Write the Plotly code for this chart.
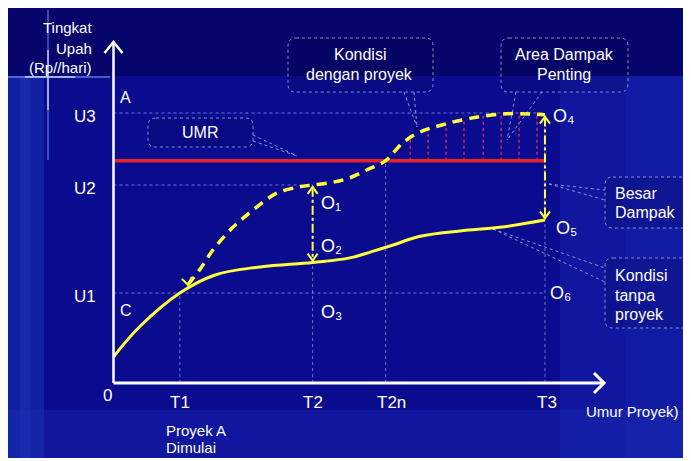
import plotly.graph_objects as go

# ---------------- data ----------------
time_labels = ["T1", "T2", "T2n", "T3"]
time_vals = [1.0, 3.0, 4.1, 6.5]
wage_labels = ["U1", "U2", "U3"]
wage_vals = [1.0, 2.2, 3.0]
umr_level = 2.47

# Kondisi tanpa proyek (solid)
t_without = [0.0, 0.4, 1.0, 1.53, 2.21, 3.0, 3.56, 3.89, 4.2, 4.62, 5.22, 5.82, 6.5]
w_without = [0.29, 0.63, 1.0, 1.2, 1.29, 1.34, 1.39, 1.46, 1.53, 1.63, 1.69, 1.73, 1.81]

# Kondisi dengan proyek (dashed)
t_with = [1.12, 1.3, 1.5, 1.8, 2.1, 2.46, 2.81, 3.0, 3.3, 3.56, 3.82, 4.1, 4.36, 4.62, 4.96, 5.37, 5.87, 6.27, 6.5]
w_with = [1.09, 1.26, 1.48, 1.73, 1.92, 2.11, 2.18, 2.2, 2.23, 2.28, 2.37, 2.47, 2.67, 2.79, 2.87, 2.94, 2.99, 2.99, 2.98]

# Area dampak penting (vertical hatch lines)
impact_t = [4.47, 4.74, 5.01, 5.28, 5.57, 5.84, 6.11, 6.38]
impact_top = [2.72, 2.82, 2.88, 2.92, 2.97, 2.99, 2.99, 2.99]

# point labels
point_labels = ["O₁", "O₂", "O₃", "O₄", "O₅", "O₆"]

# ---------------- geometry / style ----------------
OFF = 8                 # page body margin
W, H = 691, 450         # figure size
X0, XS = 113.5 - OFF, 66.38   # figure pixel of x=0, pixels per unit
Y0, YS = 383.0 - OFF, 90.0

def dx(fx):
    return (fx - X0) / XS

def dy(fy):
    return (Y0 - fy) / YS

def pp(px, py):
    # reference-screen pixel -> paper coords
    return (px - OFF) / W, 1 - (py - OFF) / H

YELLOW = "#ffff3c"
RED = "#e8202c"
GRID = "rgba(190,200,255,0.55)"
BOXLINE = "rgba(170,185,235,0.75)"
SANS = "Liberation Sans, Arial, sans-serif"

fig = go.Figure()
shapes = []
annotations = []

def rect_px(x0, y0, x1, y1, color):
    a0 = pp(x0, y0)
    a1 = pp(x1, y1)
    shapes.append(dict(type="rect", xref="paper", yref="paper", x0=a0[0], y0=a1[1], x1=a1[0], y1=a0[1],
                       fillcolor=color, line=dict(width=0), layer="below"))

# background
rect_px(8, 8, 700, 460, "#0b0b90")
rect_px(8, 8, 700, 76, "#05056c")
rect_px(8, 76, 44, 460, "#1020a0")
rect_px(20, 76, 30, 460, "rgba(40,60,190,0.35)")
rect_px(560, 76, 700, 460, "rgba(30,50,190,0.3)")
rect_px(8, 410, 700, 460, "rgba(30,50,190,0.3)")
rect_px(625, 76, 700, 460, "rgba(30,50,190,0.2)")

def line_px(x0, y0, x1, y1, color, width, dash="solid"):
    a0 = pp(x0, y0)
    a1 = pp(x1, y1)
    shapes.append(dict(type="line", xref="paper", yref="paper", x0=a0[0], y0=a0[1], x1=a1[0], y1=a1[1],
                       line=dict(color=color, width=width, dash=dash), layer="below"))

# lens glint
line_px(8, 77, 110, 77, "rgba(120,160,255,0.55)", 2)
line_px(25, 77, 75, 77, "rgba(220,235,255,0.8)", 1.5)
line_px(48, 10, 48, 160, "rgba(120,160,255,0.45)", 2)
line_px(48, 50, 48, 110, "rgba(220,235,255,0.8)", 1.5)

# grid (dotted) lines in data coords
def dline(x0, y0, x1, y1, color, width, dash):
    shapes.append(dict(type="line", xref="x", yref="y", x0=x0, y0=y0, x1=x1, y1=y1,
                       line=dict(color=color, width=width, dash=dash), layer="below"))

T1, T2, T2n, T3 = time_vals
U1, U2, U3 = wage_vals
dline(0, U3, T3, U3, GRID, 1, "dot")
dline(0, U2, T2, U2, GRID, 1, "dot")
dline(0, U1, T3, U1, GRID, 1, "dot")
dline(T1, 0, T1, U1, GRID, 1, "dot")
dline(T2, 0, T2, U2, GRID, 1, "dot")
dline(T2n, 0, T2n, umr_level, GRID, 1, "dot")
dline(T3, 0, T3, U3, GRID, 1, "dot")

# callout boxes
def rounded_box(x0, y0, x1, y1, r=8):
    pts = [("M", x0 + r, y0), ("L", x1 - r, y0), ("Q", x1, y0), ("", x1, y0 + r), ("L", x1, y1 - r),
           ("Q", x1, y1), ("", x1 - r, y1), ("L", x0 + r, y1), ("Q", x0, y1), ("", x0, y1 - r),
           ("L", x0, y0 + r), ("Q", x0, y0), ("", x0 + r, y0)]
    out = []
    for cmd, px_, py_ in pts:
        a = pp(px_, py_)
        out.append(f"{cmd} {a[0]:.5f},{a[1]:.5f}" if cmd else f"{a[0]:.5f},{a[1]:.5f}")
    shapes.append(dict(type="path", xref="paper", yref="paper", path=" ".join(out) + " Z",
                       line=dict(color=BOXLINE, width=1, dash="dot"), fillcolor="rgba(0,0,60,0.15)", layer="below"))

rounded_box(148, 118, 253, 147)
line_px(253, 135, 297, 156, BOXLINE, 1, "dot")
line_px(253, 141, 297, 156, BOXLINE, 1, "dot")

rounded_box(288, 38, 433, 92)
line_px(404, 92, 417, 127, BOXLINE, 1, "dot")
line_px(414, 92, 417, 127, BOXLINE, 1, "dot")

rounded_box(501, 38, 628, 92)
line_px(516, 92, 507, 140, BOXLINE, 1, "dot")
line_px(542, 92, 507, 140, BOXLINE, 1, "dot")

rounded_box(605, 177, 710, 228)
line_px(549, 184, 605, 190, BOXLINE, 1, "dot")
line_px(549, 184, 605, 200, BOXLINE, 1, "dot")

rounded_box(605, 258, 710, 328)
line_px(493, 229, 605, 268, BOXLINE, 1, "dot")
line_px(493, 229, 605, 282, BOXLINE, 1, "dot")

# axes
y_top = dy(42 - OFF)
x_right = dx(604 - OFF)
shapes.append(dict(type="line", xref="x", yref="y", x0=0, y0=0, x1=0, y1=y_top - 0.01,
                   line=dict(color="white", width=2.5)))
shapes.append(dict(type="line", xref="x", yref="y", x0=0, y0=0, x1=x_right - 0.01, y1=0,
                   line=dict(color="white", width=3)))

def chevron(xa, ya, a1, a2, color, width):
    shapes.append(dict(type="path", xref="x", yref="y", xsizemode="pixel", ysizemode="pixel",
                       xanchor=xa, yanchor=ya,
                       path=f"M {a1[0]} {a1[1]} L 0 0 L {a2[0]} {a2[1]}",
                       line=dict(color=color, width=width)))

chevron(0, y_top, (-9, -11), (9, -11), "white", 2.5)
chevron(x_right, 0, (-10, 10), (-10, -10), "white", 3)

# ---------------- traces ----------------
fig.add_trace(go.Scatter(x=[0, T3], y=[umr_level, umr_level], mode="lines",
                         line=dict(color=RED, width=3.5), hoverinfo="skip"))

hx, hy = [], []
for t, top in zip(impact_t, impact_top):
    hx += [t, t, None]
    hy += [umr_level, top, None]
fig.add_trace(go.Scatter(x=hx, y=hy, mode="lines",
                         line=dict(color="rgba(225,40,90,0.9)", width=1.5, dash="dot"), hoverinfo="skip"))

fig.add_trace(go.Scatter(x=t_without, y=w_without, mode="lines",
                         line=dict(color=YELLOW, width=3, shape="spline", smoothing=1.1), hoverinfo="skip"))

fig.add_trace(go.Scatter(x=t_with, y=w_with, mode="lines",
                         line=dict(color=YELLOW, width=3.5, shape="spline", smoothing=1.0, dash="10px,7px"),
                         hoverinfo="skip"))

o1 = w_with[t_with.index(T2)]
o2 = w_without[t_without.index(T2)]
o4 = w_with[-1]
o5 = w_without[-1]
for xx, top, bot in [(T2, o1, o2), (T3, o4, o5)]:
    fig.add_trace(go.Scatter(x=[xx, xx], y=[top - 0.03, bot + 0.03], mode="lines",
                             line=dict(color=YELLOW, width=2, dash="dashdot"), hoverinfo="skip"))
    chevron(xx, top - 0.02, (-5, -7), (5, -7), YELLOW, 2)
    chevron(xx, bot + 0.02, (-5, 7), (5, 7), YELLOW, 2)

chevron(t_with[0], w_with[0], (-6, 6), (4, 8), YELLOW, 2)

# ---------------- text ----------------
def text_px(px, py, txt, size=16, xanchor="center", align="center"):
    a = pp(px, py)
    annotations.append(dict(x=a[0], y=a[1], xref="paper", yref="paper", text=txt, showarrow=False,
                            xanchor=xanchor, yanchor="middle", align=align,
                            font=dict(color="white", size=size, family=SANS)))

text_px(94, 28, "Tingkat", 15, "right")
text_px(94, 48, "Upah", 15, "right")
text_px(94, 67, "(Rp//hari)", 15, "right")

shifts = [0, 0, 6, 2]
for lab, val, s in zip(time_labels, time_vals, shifts):
    annotations.append(dict(x=val, y=0, xref="x", yref="y", text=lab, showarrow=False,
                            xshift=s, yshift=-19, font=dict(color="white", size=17, family=SANS)))
for lab, val in zip(wage_labels, wage_vals):
    annotations.append(dict(x=0, y=val, xref="x", yref="y", text=lab, showarrow=False,
                            xshift=-29, yshift=-3, font=dict(color="white", size=17, family=SANS)))
text_px(107, 395, "0", 17)
text_px(632, 411, "Umur Proyek)", 15)
text_px(164, 430, "Proyek A", 15, "left")
text_px(164, 447, "Dimulai", 15, "left")

text_px(126, 98, "A", 16)
text_px(126, 310, "C", 16)
label_pos = [(331, 203), (331, 246), (331, 312), (563, 116), (566, 228), (560, 293)]
for lab, (lx, ly) in zip(point_labels, label_pos):
    text_px(lx, ly, lab, 18)

text_px(200, 132, "UMR", 16)
text_px(360, 54, "Kondisi", 16)
text_px(360, 75, "dengan proyek", 16)
text_px(564, 54, "Area Dampak", 16)
text_px(564, 75, "Penting", 16)
text_px(613, 193, "Besar", 16, "left")
text_px(613, 213, "Dampak", 16, "left")
text_px(613, 275, "Kondisi", 16, "left")
text_px(613, 295, "tanpa", 16, "left")
text_px(613, 314, "proyek", 16, "left")

fig.update_layout(
    width=W, height=H,
    margin=dict(l=0, r=0, t=0, b=0),
    paper_bgcolor="white", plot_bgcolor="white",
    showlegend=False,
    xaxis=dict(range=[dx(0), dx(W)], visible=False, fixedrange=True),
    yaxis=dict(range=[dy(H), dy(0)], visible=False, fixedrange=True),
    shapes=shapes, annotations=annotations,
)

fig.write_html("out.html")
